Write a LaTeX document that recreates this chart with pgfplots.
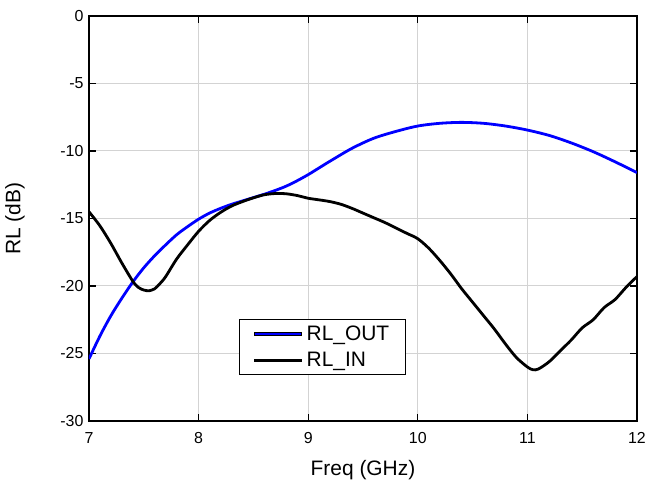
\documentclass[border=0pt]{standalone}
\usepackage{fontspec}
\setmainfont{Liberation Sans}
\usepackage{pgfplots}
\pgfplotsset{compat=1.18}

\definecolor{gridgray}{RGB}{211,211,211}

\begin{document}
\begin{tikzpicture}
\useasboundingbox (-89bp,-63bp) rectangle (557bp,421bp);
\begin{axis}[
    at={(0,0)}, anchor=south west,
    scale only axis,
    width=548bp, height=405bp,
    xmin=7, xmax=12, ymin=-30, ymax=0,
    xtick={7,8,...,12},
    ytick={-30,-25,...,0},
    tick align=inside,
    major tick length=7bp,
    tick style={black, line width=1.3bp},
    axis line style={black, line width=1.3bp},
    grid=major,
    major grid style={gridgray, line width=1bp},
    /pgf/number format/assume math mode=true,
    tick label style={font=\fontsize{16}{19}\selectfont},
    yticklabel style={xshift=-2bp},
    xticklabel style={yshift=-8bp},
    label style={font=\fontsize{21}{25}\selectfont},
    xlabel={Freq (GHz)},
    ylabel={RL (dB)},
    xlabel style={at={(axis description cs:0.5,-0.12)}, anchor=center},
    ylabel style={at={(axis description cs:-0.135,0.5)}, anchor=center},
    legend style={
        at={(0.274,0.252)}, anchor=north west,
        font=\fontsize{21}{25}\selectfont,
        draw=black, line width=1bp,
        inner xsep=14bp, inner ysep=4.5bp,
        row sep=6.5bp,
        cells={anchor=west},
        /tikz/every odd column/.append style={column sep=3bp},
    },
    legend image code/.code={
        \fill[#1] (0bp,-1.4bp) rectangle (47bp,1.4bp);
    },
]
\addlegendimage{fill=blue}
\addlegendentry{RL\_OUT}
\addlegendimage{fill=black}
\addlegendentry{RL\_IN}
\addplot[blue, line width=2.8bp, smooth, forget plot] coordinates {
(7.0,-25.4) (7.1,-23.7) (7.2,-22.2) (7.3,-20.9) (7.4,-19.7)
(7.5,-18.65) (7.6,-17.75) (7.7,-16.95) (7.8,-16.2) (7.9,-15.6)
(8.0,-15.05) (8.1,-14.6) (8.2,-14.25) (8.3,-13.95) (8.4,-13.7)
(8.5,-13.45) (8.6,-13.2) (8.7,-12.92) (8.8,-12.6) (8.9,-12.2)
(9.0,-11.75) (9.1,-11.25) (9.2,-10.75)
(9.4,-9.8) (9.6,-9.05) (9.8,-8.55) (10.0,-8.15) (10.2,-7.95)
(10.4,-7.88) (10.6,-7.95) (10.8,-8.15) (11.0,-8.45) (11.2,-8.85)
(11.4,-9.4) (11.6,-10.05) (11.8,-10.8) (12.0,-11.6)
};
\addplot[black, line width=2.8bp, smooth, forget plot] coordinates {
(7.0,-14.5) (7.1,-15.55) (7.2,-16.85) (7.3,-18.3) (7.4,-19.65)
(7.45,-20.1) (7.5,-20.3) (7.55,-20.35) (7.6,-20.2) (7.65,-19.8)
(7.7,-19.3) (7.8,-18.0) (7.9,-16.95) (8.0,-15.95) (8.1,-15.15)
(8.2,-14.55) (8.3,-14.08) (8.4,-13.75) (8.5,-13.47) (8.6,-13.24)
(8.7,-13.15) (8.8,-13.17) (8.9,-13.3) (9.0,-13.5) (9.1,-13.62)
(9.2,-13.75) (9.3,-13.95) (9.4,-14.25) (9.5,-14.6) (9.6,-14.95)
(9.7,-15.3) (9.8,-15.7)
(9.9,-16.1) (10.0,-16.5) (10.1,-17.2) (10.2,-18.1) (10.3,-19.1)
(10.4,-20.2) (10.5,-21.2) (10.6,-22.2) (10.7,-23.2) (10.8,-24.3)
(10.9,-25.3) (11.0,-26.0) (11.05,-26.2) (11.1,-26.15) (11.2,-25.6)
(11.3,-24.8) (11.4,-24.0) (11.5,-23.1) (11.6,-22.5) (11.7,-21.6)
(11.8,-21.0) (11.9,-20.1) (12.0,-19.3)
};
\end{axis}
\end{tikzpicture}
\end{document}
